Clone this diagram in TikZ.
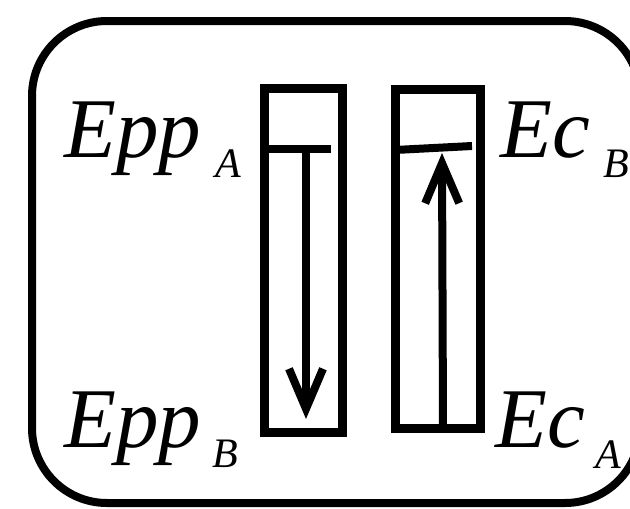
\documentclass[tikz,border=0pt]{standalone}
\usepackage{fontspec}
\setmainfont{Liberation Serif}[ItalicFont={Liberation Serif Italic}]
\usetikzlibrary{arrows.meta}
\begin{document}
\begin{tikzpicture}[x=1pt,y=-1pt,
  frame/.style={draw=black,line width=8pt,rounded corners=75pt},
  bar/.style={draw=black,line width=9pt,inner sep=0pt,minimum width=78pt,minimum height=344pt},
  level/.style={draw=black,line width=8pt},
  arr/.style={draw=black,line width=8pt,-{Straight Barb[length=40pt,width=34pt,line width=8pt]}},
  big/.style={inner sep=0pt,anchor=base west,font=\fontsize{85}{100}\selectfont\itshape},
  small/.style={inner sep=0pt,anchor=base west,font=\fontsize{42}{50}\selectfont\itshape}]
\useasboundingbox (0,0) rectangle (630,509);
\fill[white] (0,0) rectangle (630,509);
\begin{scope}
\clip (0,0) rectangle (630,509);
\draw[frame] (32,21) rectangle (640,503);
\end{scope}
% bars
\node[bar] (L) at (303,260) {};
\node[bar,minimum width=85pt,minimum height=339pt] (R) at (437.5,258.5) {};
% level markers
\coordinate (la) at (264,149);
\coordinate (lb) at (331,149);
\coordinate (ra) at (395,150);
\coordinate (rb) at (472,146);
\draw[level] (la) -- (lb);
\draw[level] (ra) -- (rb);
% arrows
\coordinate (ls) at (306,149);
\coordinate (le) at (306,419);
\coordinate (rs) at (443,428);
\coordinate (re) at (442,153);
\draw[arr] (ls) -- (le);
\draw[arr] (rs) -- (re);
% labels
\node[big] (eppA) at (64,157) {Epp};
\node[small] (subA1) at (215,177) {A};
\node[big] (ecB) at (500,157) {Ec};
\node[small] (subB1) at (603,177) {B};
\node[big] (eppB) at (64,447) {Epp};
\node[small] (subB2) at (212,467) {B};
\node[big] (ecA) at (495,447) {Ec};
\node[small] (subA2) at (595,468) {A};
\end{tikzpicture}
\end{document}
